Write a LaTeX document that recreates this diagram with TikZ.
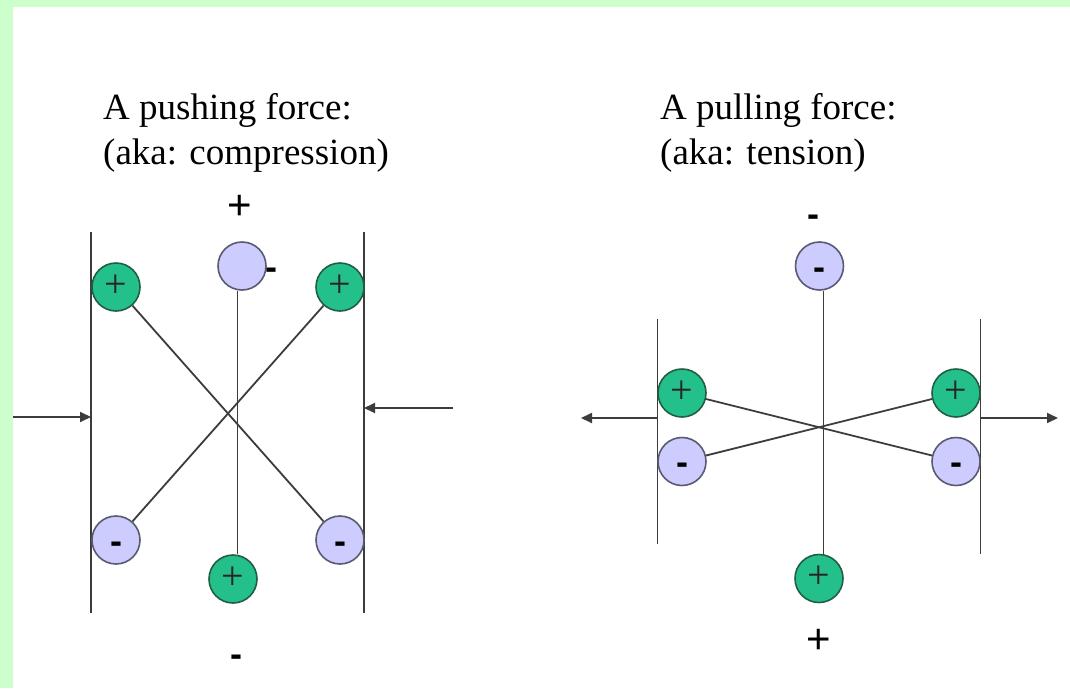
\documentclass[tikz,border=0pt]{standalone}
\usepackage{fontspec}
\setmainfont{Liberation Serif}
\newfontfamily\sansf{Liberation Sans}
\usetikzlibrary{arrows.meta}
\definecolor{bordergreen}{RGB}{204,255,204}
\definecolor{plusfill}{RGB}{36,192,140}
\definecolor{plusline}{RGB}{32,96,64}
\definecolor{minusfill}{RGB}{204,204,255}
\definecolor{minusline}{RGB}{90,90,115}
\definecolor{rod}{RGB}{60,60,60}
\newcommand\inplus{\raisebox{-10pt}[0pt][0pt]{+}}
\newcommand\inminus{\raisebox{-13pt}[0pt][0pt]{-}}
\newcommand\outplus{\raisebox{-14.8pt}[0pt][0pt]{+}}
\newcommand\outminus{\textbf{\raisebox{-9.1pt}[0pt][0pt]{-}}}
\begin{document}
\begin{tikzpicture}[x=1pt,y=-1pt,
  posion/.style={circle,draw=plusline,fill=plusfill,line width=1.6pt,minimum size=48pt,inner sep=0pt,
    font=\fontsize{40}{40}\selectfont,text=black!85},
  negion/.style={circle,draw=minusline,fill=minusfill,line width=1.6pt,minimum size=48pt,inner sep=0pt,
    font=\sansf\bfseries\fontsize{36}{36}\selectfont,text=black},
  rodline/.style={draw=rod,line width=1.8pt},
  wall/.style={draw=rod,line width=1.8pt},
  force/.style={draw=rod,line width=1.8pt,-{Triangle[length=11pt,width=10pt]}},
  title/.style={anchor=base west,inner sep=0pt,font=\fontsize{37}{37}\selectfont},
  sign/.style={inner sep=0pt,font=\sansf\fontsize{42}{42}\selectfont},
  signm/.style={inner sep=0pt,font=\sansf\bfseries\fontsize{36}{36}\selectfont},
]
\useasboundingbox (0,0) rectangle (1070,688);
\fill[bordergreen] (0,0) rectangle (1070,688);
\fill[white] (13,7) rectangle (1070,688);

% ---------- left: pushing force ----------
\node[title] (T1) at (103,119) {A pushing force:};
\node[title] (T2) at (103,164) {(aka: compression)};

\coordinate (LW1t) at (91,232);
\coordinate (LW1b) at (91,613);
\coordinate (LW2t) at (364,232);
\coordinate (LW2b) at (364,613);
\draw[wall] (LW1t) -- (LW1b);
\draw[wall] (LW2t) -- (LW2b);

\node[posion] (A1) at (116,287) {\inplus};
\node[negion] (A2) at (242,266) {};
\node[posion] (A3) at (340,287) {\inplus};
\node[negion] (A4) at (116,540) {\inminus};
\node[negion] (A5) at (340,540) {\inminus};
\node[posion] (A6) at (233,579) {\inplus};

\draw[rodline] (A1) -- (A5);
\draw[rodline] (A3) -- (A4);
\draw[rodline] ([xshift=-4.5pt]A2.south) -- ([xshift=4.5pt]A6.north);

\coordinate (LA) at (13,417);
\coordinate (RA) at (453,408);
\draw[force] (LA) -- (LA -| LW1t);
\draw[force] (RA) -- (RA -| LW2t);

\node[sign] (S1) at (239.5,204.5) {\outplus};
\node[signm] (S2) at (271,270) {\outminus};
\node[signm] (S3) at (236,657) {\outminus};

% ---------- right: pulling force ----------
\node[title] (T3) at (660,119) {A pulling force:};
\node[title] (T4) at (660,164) {(aka: tension)};

\coordinate (BW1t) at (657.5,319);
\coordinate (BW1b) at (657.5,544);
\coordinate (BW2t) at (980.5,319);
\coordinate (BW2b) at (980.5,554);
\draw[wall] (BW1t) -- (BW1b);
\draw[wall] (BW2t) -- (BW2b);

\node[negion] (B1) at (819.5,266) {\inminus};
\node[posion] (B2) at (682,393) {\inplus};
\node[negion] (B3) at (682,461.5) {\inminus};
\node[posion] (B4) at (956,393) {\inplus};
\node[negion] (B5) at (956,461.5) {\inminus};
\node[posion] (B6) at (819,578.5) {\inplus};

\draw[rodline] (B2) -- (B5);
\draw[rodline] (B3) -- (B4);
\draw[rodline] ([xshift=4pt]B1.south) -- ([xshift=4.5pt]B6.north);

\coordinate (BLA) at (581,418);
\coordinate (BRA) at (1058,418);
\draw[force] (BLA -| BW1t) -- (BLA);
\draw[force] (BRA -| BW2t) -- (BRA);

\node[signm] (S4) at (813,217) {\outminus};
\node[sign] (S5) at (818.5,639) {\outplus};
\end{tikzpicture}
\end{document}
